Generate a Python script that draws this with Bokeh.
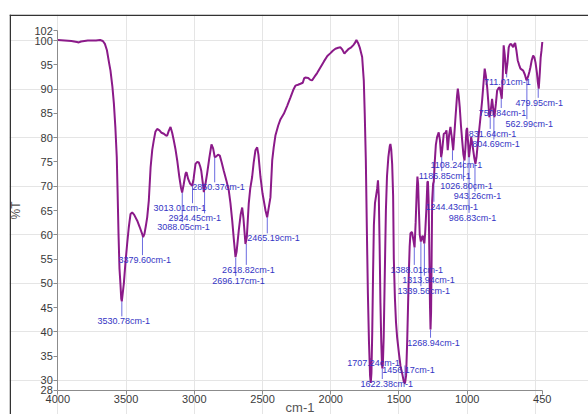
from bokeh.plotting import figure
from bokeh.models import Range1d, FixedTicker, LinearAxis, Span, ColumnDataSource
from bokeh.embed import file_html
from bokeh.resources import INLINE
from bokeh.core.properties import value

# ---- spectrum (wavenumber cm-1, %T) ----
wavenumber = [
    4000, 3950, 3900, 3860, 3846, 3830, 3780, 3720, 3690, 3670, 3655, 3640, 3625, 3614, 3600,
    3589, 3578, 3568, 3562, 3555, 3548, 3541, 3535, 3531, 3526, 3516, 3505, 3492, 3480, 3467,
    3455, 3440, 3418, 3400, 3382, 3375, 3365, 3355, 3345, 3333, 3320, 3308, 3297, 3285, 3272,
    3255, 3240, 3223, 3210, 3199, 3187, 3174, 3162, 3150, 3137, 3125, 3110, 3098, 3089, 3078,
    3064, 3057, 3045, 3030, 3015, 3005, 2991, 2978, 2967, 2956, 2949, 2940, 2930, 2918, 2906,
    2890, 2874, 2862, 2850, 2840, 2826, 2813, 2800, 2784, 2765, 2747, 2735, 2722, 2710, 2698,
    2690, 2674, 2660, 2649, 2640, 2625, 2615, 2601, 2590, 2576, 2565, 2552, 2539, 2530, 2515,
    2500, 2491, 2478, 2466, 2455, 2442, 2429, 2418, 2405, 2385, 2368, 2344, 2320, 2295, 2275,
    2259, 2240, 2222, 2205, 2195, 2186, 2165, 2150, 2137, 2120, 2100, 2075, 2050, 2025, 2002,
    1985, 1966, 1945, 1929, 1915, 1900, 1885, 1868, 1850, 1836, 1825, 1812, 1800, 1788, 1770,
    1758, 1751, 1743, 1736, 1728, 1720, 1712, 1707, 1702, 1696, 1690, 1684, 1676, 1668, 1660,
    1654, 1648, 1642, 1636, 1630, 1625, 1622, 1618, 1612, 1604, 1596, 1588, 1578, 1568, 1563,
    1557, 1550, 1543, 1538, 1530, 1522, 1514, 1500, 1489, 1475, 1465, 1456, 1448, 1440, 1434,
    1428, 1422, 1416, 1410, 1404, 1398, 1392, 1386, 1378, 1370, 1365, 1360, 1354, 1348, 1340,
    1332, 1326, 1320, 1314, 1308, 1300, 1292, 1288, 1283, 1278, 1273, 1269, 1265, 1261, 1257,
    1250, 1245, 1238, 1230, 1221, 1209, 1200, 1191, 1185, 1172, 1160, 1152, 1143, 1133, 1123,
    1113, 1103, 1095, 1086, 1075, 1069, 1062, 1055, 1046, 1037, 1028, 1020, 1013, 1006, 1001,
    995, 987, 979, 971, 963, 956, 948, 940, 932, 923, 908, 900, 891, 880, 872,
    864, 854, 846, 838, 831, 824, 818, 810, 801, 790, 781, 770, 762, 755, 747,
    740, 733, 725, 715, 705, 696, 687, 678, 670, 663, 656, 649, 640, 630, 620,
    610, 600, 590, 578, 566, 555, 545, 537, 527, 517, 508, 500, 490, 483, 476,
    468, 462, 456, 450,
]
transmittance = [
    100.1, 100.0, 99.9, 99.7, 99.6, 99.8, 100.0, 100.0, 100.1, 99.9, 99.3, 98.0, 95.5, 93.8, 90.5,
    87.0, 82.0, 76.0, 69.0, 60.0, 53.0, 49.9, 46.8, 46.3, 47.5, 50.0, 54.0, 58.1, 61.5, 64.3,
    64.6, 64.1, 62.9, 61.6, 60.2, 59.5, 60.2, 61.8, 63.6, 67.1, 73.9, 77.5, 79.4, 81.2, 81.8,
    81.5, 81.0, 80.8, 80.5, 80.4, 81.4, 82.2, 81.0, 79.4, 77.5, 75.3, 72.0, 69.8, 68.7, 70.3,
    72.6, 72.9, 71.5, 70.5, 70.1, 71.5, 74.6, 75.0, 74.9, 74.0, 73.2, 71.2, 68.8, 70.5, 72.6,
    75.8, 78.6, 77.8, 76.0, 76.1, 76.5, 76.3, 75.0, 73.2, 71.2, 69.1, 66.5, 62.9, 59.0, 55.4,
    56.5, 60.9, 64.2, 65.6, 63.5, 58.1, 59.5, 66.4, 69.5, 71.9, 74.8, 77.4, 78.0, 76.5, 71.9,
    68.5, 67.1, 65.0, 63.6, 65.5, 67.7, 75.3, 78.0, 80.5, 82.5, 83.8, 84.9, 86.5, 88.3, 89.8,
    90.7, 90.9, 91.1, 91.3, 92.2, 92.4, 92.3, 91.9, 91.8, 92.5, 93.3, 94.5, 95.7, 96.8, 97.4,
    97.9, 98.3, 98.5, 98.6, 98.1, 97.3, 97.8, 98.3, 98.6, 99.0, 99.4, 100.1, 99.5, 98.6, 96.6,
    91.8, 84.9, 75.3, 62.0, 48.0, 38.0, 31.0, 29.5, 31.5, 40.0, 52.0, 62.0, 66.5, 68.0, 69.5,
    71.2, 68.0, 58.0, 46.0, 38.0, 33.5, 32.5, 33.5, 39.0, 52.0, 65.0, 72.0, 76.0, 78.2, 78.7,
    77.6, 74.5, 68.0, 55.0, 47.0, 42.0, 39.0, 35.5, 33.0, 31.2, 29.8, 29.4, 31.0, 38.0, 45.0,
    52.0, 57.5, 60.3, 60.5, 60.5, 59.5, 58.5, 57.4, 62.5, 69.0, 72.0, 70.5, 65.0, 60.0, 58.6,
    59.5, 59.8, 58.8, 58.2, 60.5, 65.0, 70.8, 71.0, 67.0, 57.0, 45.5, 40.5, 44.0, 55.0, 67.0,
    70.5, 71.0, 75.0, 78.5, 80.1, 81.1, 79.5, 76.0, 77.0, 80.8, 81.0, 81.5, 77.4, 80.5, 82.2,
    80.0, 77.4, 80.5, 84.2, 88.5, 90.1, 88.5, 86.3, 82.5, 79.4, 76.5, 75.3, 78.0, 81.5, 82.0,
    79.5, 76.0, 78.0, 80.1, 78.8, 77.4, 75.8, 74.6, 76.0, 78.7, 82.8, 85.0, 87.6, 91.5, 94.2,
    92.8, 90.4, 87.5, 84.2, 85.0, 86.5, 88.0, 86.0, 84.2, 87.0, 89.7, 90.2, 90.4, 89.3, 88.0,
    92.5, 99.0, 97.0, 93.1, 95.5, 98.6, 99.2, 99.3, 98.9, 98.6, 99.2, 99.5, 98.0, 95.9, 95.0,
    94.2, 94.0, 93.8, 93.0, 91.8, 92.5, 93.5, 94.5, 96.0, 96.9, 96.5, 95.5, 93.5, 91.5, 90.1,
    93.5, 96.5, 97.9, 99.7,
]

# ---- labelled peaks ----
peak_wn = [3530.78, 3379.60, 3088.05, 3013.01, 2924.45, 2850.37, 2696.17, 2618.82, 2465.19,
           1707.24, 1622.38, 1456.17, 1388.01, 1339.56, 1313.94, 1268.94, 1244.43, 1186.85,
           1108.24, 1026.80, 986.83, 943.26, 831.64, 804.69, 750.84, 711.01, 562.99, 479.95]
peak_T = [46.3, 59.5, 68.7, 70.1, 68.8, 76.0, 55.3, 58.1, 63.6,
          29.5, 32.5, 29.4, 57.4, 58.6, 58.2, 40.5, 71.0, 76.0,
          77.4, 75.3, 76.0, 74.6, 84.2, 84.2, 88.0, 93.1, 91.8, 90.1]
# label anchor (left edge wavenumber, centre %T)
label_x = [3709, 3555, 3272, 3299, 3189, 3015, 2869, 2796, 2612,
           1880, 1782, 1623, 1563, 1511, 1477, 1440, 1306, 1355,
           1270, 1198, 1136, 1099, 989, 964, 915, 878, 720, 646]
label_y = [42.2, 54.8, 61.6, 65.5, 63.4, 69.8, 50.5, 52.8, 59.3,
           33.6, 29.3, 32.1, 52.8, 48.4, 50.6, 37.8, 65.8, 72.1,
           74.3, 70.1, 63.5, 67.9, 80.8, 78.6, 85.1, 91.4, 82.8, 87.2]

x_ticks = [4000, 3500, 3000, 2500, 2000, 1500, 1000, 450]
y_ticks = [28, 30, 35, 40, 45, 50, 55, 60, 65, 70, 75, 80, 85, 90, 95, 100, 102]
x_lo, x_hi = 450, 4000
y_lo, y_hi = 28, 102

labels = ["%.2fcm-1" % w for w in peak_wn]
lead_top = [y + 1.0 for y in label_y]

# ---- layout: the frame fills the bordered box; axes sit inside it ----
W, H = 588, 414
box_left, box_top = 9, 14
px_x_hi, px_x_lo = 57.3, 541.8    # pixel of 4000 and 450
px_y_hi, px_y_lo = 30.3, 389.7    # pixel of 102 and 28
xpp = (x_hi - x_lo) / (px_x_lo - px_x_hi)
ypp = (y_hi - y_lo) / (px_y_lo - px_y_hi)
xr = Range1d(x_hi + (px_x_hi - box_left) * xpp, x_lo - (W - px_x_lo) * xpp)
yr = Range1d(y_lo - (H - px_y_lo) * ypp, y_hi + (px_y_hi - box_top) * ypp)

p = figure(width=W, height=H, x_range=xr, y_range=yr,
           output_backend="svg", toolbar_location=None,
           x_axis_location=None, y_axis_location=None,
           min_border_left=box_left, min_border_top=box_top,
           min_border_right=0, min_border_bottom=0)
p.outline_line_color = None
p.background_fill_color = "white"
p.border_fill_color = "white"

xaxis = LinearAxis(fixed_location=y_lo, bounds=(x_lo, x_hi), ticker=FixedTicker(ticks=x_ticks),
                   axis_label="cm-1")
yaxis = LinearAxis(fixed_location=x_hi, bounds=(y_lo, y_hi), ticker=FixedTicker(ticks=y_ticks),
                   axis_label="%T")
for ax in (xaxis, yaxis):
    ax.axis_line_color = "#8c8c8c"
    ax.major_tick_line_color = "#8c8c8c"
    ax.minor_tick_line_color = None
    ax.major_tick_in = 0
    ax.major_tick_out = 4
    ax.major_label_text_font = "Liberation Sans"
    ax.major_label_text_font_size = "11px"
    ax.major_label_text_color = "#3a3a3a"
    ax.major_label_standoff = 1
    ax.axis_label_text_font = "Liberation Sans"
    ax.axis_label_text_font_style = "normal"
    ax.axis_label_text_color = "#555555"
yaxis.axis_label_text_font_size = "12px"
yaxis.axis_label_standoff = 8
xaxis.axis_label_text_font_size = "13px"
xaxis.axis_label_standoff = -7
p.add_layout(xaxis, "below")
p.add_layout(yaxis, "left")

# outer box (top and left edges)
p.add_layout(Span(location=yr.end - 0.75 * ypp, dimension="width", line_color="#333333", line_width=1.5))
p.add_layout(Span(location=xr.start - 0.75 * xpp, dimension="height", line_color="#333333", line_width=1.5))

src = ColumnDataSource(dict(wn=peak_wn, t=peak_T, lx=label_x, ly=label_y, top=lead_top, txt=labels))

p.segment(x0="wn", y0="t", x1="wn", y1="top", source=src, line_color="#6b6be0", line_width=1)
p.line(wavenumber, transmittance, line_color="#8b1a89", line_width=2)
p.text(x="lx", y="ly", text="txt", source=src, text_font=value("Liberation Sans"),
       text_font_size="9px", text_color="#3434c4", text_align="left", text_baseline="middle")

open("out.html", "w").write(file_html(p, INLINE))
